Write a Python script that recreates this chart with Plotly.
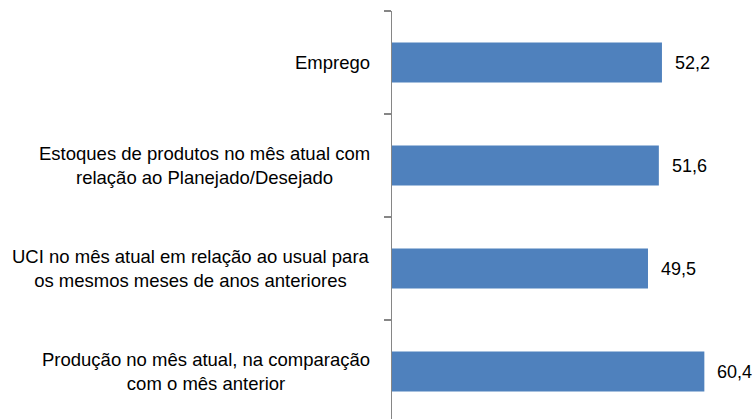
import plotly.graph_objects as go

categories = [
    "Produção no mês atual, na comparação<br>com o mês anterior",
    "UCI no mês atual em relação ao usual para<br>os mesmos meses de anos anteriores",
    "Estoques de produtos no mês atual com<br>relação ao Planejado/Desejado",
    "Emprego",
]
values = [60.4, 49.5, 51.6, 52.2]
value_labels = ["60,4", "49,5", "51,6", "52,2"]

FONT = "Liberation Sans"
BAR = "#4F81BD"
AXIS = "#868686"

fig = go.Figure()
fig.add_trace(go.Bar(
    x=values, y=categories, orientation="h",
    marker=dict(color=BAR, line=dict(width=0)),
    width=0.39, hoverinfo="skip",
))

annotations = []
for cat, v, lab in zip(categories, values, value_labels):
    annotations.append(dict(
        x=v, y=cat, xref="x", yref="y", text=lab, showarrow=False,
        xanchor="left", yanchor="middle", xshift=11,
        font=dict(family=FONT, size=18, color="#000000"),
    ))
    annotations.append(dict(
        x=0, y=cat, xref="paper", yref="y", text=cat, showarrow=False,
        xanchor="right", yanchor="middle", align="center", xshift=-20,
        font=dict(family=FONT, size=18.5, color="#000000"),
    ))

fig.update_layout(
    width=756, height=419, autosize=False,
    margin=dict(l=392, r=2, t=11, b=0, autoexpand=False),
    paper_bgcolor="white", plot_bgcolor="white",
    showlegend=False,
    annotations=annotations,
    xaxis=dict(range=[0, 70], visible=False, showgrid=False, zeroline=False,
               automargin=False),
    yaxis=dict(
        type="category", categoryorder="array", categoryarray=categories,
        range=[-0.461, 3.5], showgrid=False, zeroline=False, automargin=False,
        showline=True, linecolor=AXIS, linewidth=1.5,
        ticks="outside", tickson="boundaries", ticklen=7,
        tickcolor=AXIS, tickwidth=1.5, showticklabels=False,
    ),
)

fig.write_html(
    "out.html",
    config={"displayModeBar": False, "staticPlot": True},
    post_script="document.body.style.margin='0';document.body.style.overflow='hidden';",
)
